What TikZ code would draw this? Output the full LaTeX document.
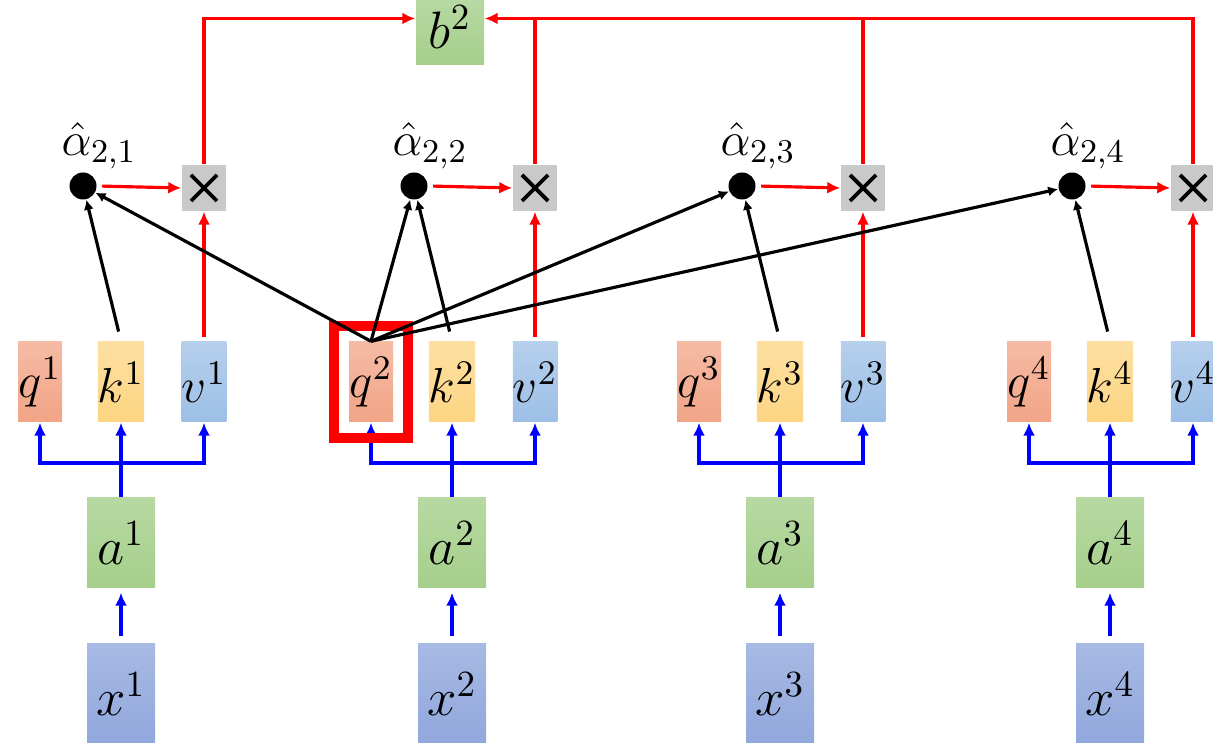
\RequirePackage{fix-cm}
\documentclass[tikz,border=0pt]{standalone}
\usepackage{amsmath}
\usetikzlibrary{arrows.meta}
\definecolor{query-red}{HTML}{F2A486}
\definecolor{key-yellow}{HTML}{FDD582}
\definecolor{value-blue}{HTML}{9DBFE6}
\definecolor{input-green}{HTML}{A5CF8B}
\definecolor{embed-blue}{HTML}{91A8DD}
\definecolor{mul-gray}{HTML}{C9C9C9}

\tikzset{
  vec/.style={minimum width=0.44cm, minimum height=0.8cm, inner sep=0pt,
    font=\fontsize{14}{16}\selectfont},
  big/.style={minimum width=0.68cm, minimum height=0.9cm, inner sep=0pt,
    font=\fontsize{15}{17}\selectfont},
  score/.style={circle, fill=black, minimum size=0.27cm, inner sep=0pt},
  mul/.style={fill=mul-gray, minimum width=0.44cm, minimum height=0.46cm, inner sep=0pt,
    path picture={
      \draw[line width=1.1pt] ([shift={(-0.13,-0.13)}]path picture bounding box.center)
        -- ([shift={(0.13,0.13)}]path picture bounding box.center);
      \draw[line width=1.1pt] ([shift={(-0.13,0.13)}]path picture bounding box.center)
        -- ([shift={(0.13,-0.13)}]path picture bounding box.center);}},
  blue arrow/.style={draw=blue, line width=1.1pt, -{Latex[length=1.3mm,width=1.2mm]}},
  red arrow/.style={draw=red, line width=0.9pt, -{Latex[length=1.3mm,width=1.2mm]}},
  black arrow/.style={draw=black, line width=0.9pt, -{Latex[length=1mm,width=1mm]}}
}

\begin{document}
\begin{tikzpicture}[x=1cm, y=-1cm]
  \useasboundingbox (0,0) rectangle (12.13,7.43);

  % one column per input token
  \foreach \i/\c in {1/1.21, 2/4.52, 3/7.80, 4/11.10} {
    \node[vec, top color=query-red!75!white, bottom color=query-red]
      (q\i) at (\c-0.81,3.82) {$q^{\i}$};
    \node[vec, top color=key-yellow!75!white, bottom color=key-yellow]
      (k\i) at (\c,3.82) {$k^{\i}$};
    \node[vec, top color=value-blue!75!white, bottom color=value-blue]
      (v\i) at (\c+0.83,3.82) {$v^{\i}$};
    \node[big, top color=input-green!80!white, bottom color=input-green]
      (a\i) at (\c,5.43) {$a^{\i}$};
    \node[big, minimum height=1cm, top color=embed-blue!80!white, bottom color=embed-blue]
      (x\i) at (\c,6.94) {$x^{\i}$};
    \node[score] (s\i) at (\c-0.38,1.86) {};
    \node[font=\fontsize{13.5}{15}\selectfont] (lab\i) at (\c-0.22,1.46) {$\hat{\alpha}_{2,\i}$};
    \node[mul] (m\i) at (\c+0.83,1.88) {};
    \coordinate (j\i) at (\c,4.63);

    \draw[blue arrow, shorten <=0.07cm, shorten >=0.04cm] (x\i.north) -- (a\i.south);
    \draw[blue arrow] (a\i.north) -- (k\i.south);
    \draw[blue arrow] (j\i) -| (q\i.south);
    \draw[blue arrow] (j\i) -| (v\i.south);
    \draw[red arrow, shorten <=0.04cm] (v\i.north) -- (m\i.south);
    \draw[red arrow, shorten <=0.05cm] (s\i.east) -- (m\i.west);
    \draw[black arrow, shorten <=0.1cm] (k\i.north) -- (s\i);
  }

  % the query being attended from
  \node[draw=red, line width=2.7pt, minimum width=0.74cm, minimum height=1.12cm]
    (sel) at (q2) {};
  \foreach \i in {1,...,4}
    \draw[black arrow] (q2.north) -- (s\i);

  \node[big, minimum height=0.65cm, top color=input-green!80!white, bottom color=input-green]
    (b2) at (4.50,0.325) {\raisebox{3pt}{$b^{2}$}};
  \coordinate (b2in) at ([yshift=0.14cm]b2.west);
  \coordinate (b2out) at ([yshift=0.14cm]b2.east);
  \draw[red arrow] (m1.north) |- (b2in);
  \draw[red arrow] (m4.north) |- (b2out);
  \draw[red, line width=0.9pt] (m2.north) -- (m2.north |- b2out);
  \draw[red, line width=0.9pt] (m3.north) -- (m3.north |- b2out);
\end{tikzpicture}
\end{document}
